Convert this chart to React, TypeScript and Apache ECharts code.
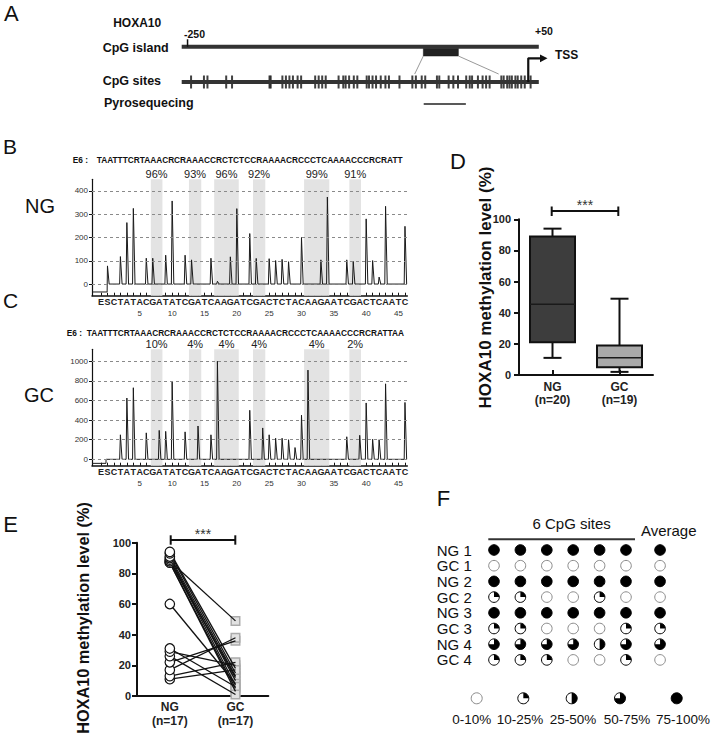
import React, { useEffect, useRef } from "react";
import * as echarts from "echarts";

const FONT = "'Liberation Sans', Arial, Helvetica, sans-serif";

// ---------- Panel A: HOXA10 promoter schematic (bp relative to TSS) ----------
const regionStart = -255;
const regionEnd = 50;
const cpgSites = [
  -247, -236, -233, -217, -212, -180, -179, -169, -166, -163, -160, -156, -153,
  -141, -138, -135, -132, -121, -117, -115, -112, -108, -105, -97, -95, -92, -89,
  -85, -81, -78, -69, -58, -55, -50, -47, -37, -35, -27, -23, -19, -12, -9, -7,
  -2, 2, 5, 8, 18, 20, 23, 25, 27, 30, 32, 35, 38, 43,
];
const islandBox = [-48.6, -18.7];
const zoomEnds = [-56, 15.7];
const pyroRegion = [-48.3, -12.3];
const tssPos = 41;
const tssArrowEnd = 52;

// ---------- Panels B / C: pyrograms ----------
const dispensation = "ESCTATACGATATCGATCAAGATCGACTCTACAAGAATCGACTCAATC".split("");
const seqToAnalyze = "TAATTTCRTAAACRCRAAACCRCTCTCCRAAAACRCCCTCAAAACCCRCRATTAA";
const cpgBands = [
  [7.7, 9.5], [13.6, 15.5], [17.5, 21.3], [23.5, 25.4], [31.4, 35.3], [38.4, 40.2],
];
const ngSitePct = [96, 93, 96, 92, 99, 91];
const gcSitePct = [10, 4, 4, 4, 4, 2];
const ngPeaks: [number, number][] = [
  [1, 78], [3, 118], [4, 264], [5, 325], [7, 111], [8, 111], [10, 124], [11, 357],
  [13, 124], [14, 104], [17, 111], [18, 12], [20, 117], [21, 324], [23, 217],
  [24, 110], [26, 109], [27, 101], [28, 106], [29, 96], [31, 200], [34, 104],
  [35, 374], [38, 104], [39, 97], [41, 280], [42, 101], [43, 30], [44, 334], [47, 248],
];
const gcPeaks: [number, number][] = [
  [3, 250], [4, 625], [5, 730], [7, 270], [9, 295], [10, 285], [11, 790], [13, 280],
  [15, 340], [17, 250], [18, 1000], [23, 500], [25, 320], [26, 250], [27, 215],
  [28, 215], [29, 200], [30, 120], [31, 450], [32, 910], [38, 230], [40, 245],
  [41, 575], [42, 205], [43, 200], [44, 770], [47, 580],
];
const ngStartLevel = -34;
const ngStepAt = 0.95;
const gcStartLevel = -41;
const gcStepAt = 0.77;
const ngTicks = [0, 100, 200, 300, 400];
const gcTicks = [0, 200, 400, 600, 800, 1000];

// ---------- Panel D: boxplot [min, Q1, median, Q3, max] ----------
const boxCats = ["NG\n(n=20)", "GC\n(n=19)"];
const boxStats = [
  [11, 21, 45.5, 89, 94],
  [2, 5, 11, 19, 49],
];
const boxFills = ["#3d3d3d", "#a9a9a9"];

// ---------- Panel E: paired samples ----------
const pairCats = ["NG\n(n=17)", "GC\n(n=17)"];
const pairedNG = [94, 93, 91, 90, 89, 88, 88, 87, 87, 60, 31, 29, 26, 22, 17, 13, 11];
const pairedGC = [18, 15, 13, 10, 7, 12, 49, 5, 3, 8, 6, 20, 1, 36, 38, 22, 17];

// ---------- Panel F: methylation levels (0:0-10,1:10-25,2:25-50,3:50-75,4:75-100) ----------
const rowLabels = ["NG 1", "GC 1", "NG 2", "GC 2", "NG 3", "GC 3", "NG 4", "GC 4"];
const siteLevels = [
  [4, 4, 4, 4, 4, 4],
  [0, 0, 0, 0, 0, 0],
  [4, 4, 4, 4, 4, 4],
  [1, 1, 0, 0, 1, 0],
  [4, 4, 4, 4, 4, 4],
  [1, 1, 0, 0, 0, 1],
  [3, 3, 3, 3, 2, 3],
  [1, 1, 1, 0, 0, 1],
];
const averageLevels = [4, 0, 4, 0, 4, 1, 3, 0];
const levelLabels = ["0-10%", "10-25%", "25-50%", "50-75%", "75-100%"];
const averageColumn = 6.29;

// legend layout (px)
const legendCircleX = [476.7, 523.3, 571.7, 620, 676.7];
const legendLabelX = [471.7, 520, 573, 627, 683];

function glyph(cx: number, cy: number, lvl: number, r: number) {
  const children: any[] = [
    {
      type: "circle",
      shape: { cx, cy, r },
      style: { fill: lvl === 4 ? "#000" : "#fff", stroke: lvl === 0 ? "#8a8a8a" : "#000", lineWidth: 1 },
    },
  ];
  if (lvl >= 1 && lvl <= 3) {
    const end = [0, 0, Math.PI / 2, Math.PI][lvl];
    children.push({
      type: "sector",
      shape: { cx, cy, r0: 0, r, startAngle: -Math.PI / 2, endAngle: end, clockwise: true },
      style: { fill: "#000" },
    });
  }
  return { type: "group", children };
}

function buildTrace(peaks: [number, number][], start: number, stepAt: number, xmin: number, xmax: number) {
  const pts: number[][] = [[xmin, start], [stepAt, start], [stepAt + 0.01, 0]];
  for (const [k, h] of peaks) {
    const last = pts[pts.length - 1][0];
    if (k - 0.12 > last) pts.push([k - 0.12, 0]);
    pts.push([k, h]);
    pts.push([k + 0.26, 0]);
  }
  pts.push([xmax, 0]);
  return pts;
}

const X_MIN = -1.392;
const X_MAX = 47.36;
const letterIdx = dispensation.map((_, i) => i);
const numberIdx = [6, 11, 16, 21, 26, 31, 36, 41, 46];

function txt(text: string, x: number, y: number, size: number, opts: any = {}) {
  return {
    type: "text",
    x,
    y,
    rotation: opts.rotation || 0,
    silent: true,
    style: {
      text,
      fontSize: size,
      fontWeight: opts.bold ? "bold" : "normal",
      fontFamily: FONT,
      fill: opts.color || "#111",
      align: opts.align || "left",
      verticalAlign: "middle",
      width: opts.width,
      overflow: opts.width ? "truncate" : undefined,
      ellipsis: "",
    },
  };
}

function seg(x1: number, y1: number, x2: number, y2: number, w = 2, color = "#111") {
  return { type: "line", silent: true, shape: { x1, y1, x2, y2 }, style: { stroke: color, lineWidth: w } };
}

function letterAxis(grid: number) {
  return {
    gridIndex: grid,
    type: "value",
    min: X_MIN,
    max: X_MAX,
    position: "bottom",
    axisLine: { show: true, onZero: false, lineStyle: { color: "#111", width: 1.5 } },
    axisTick: { show: true, inside: true, length: 3, customValues: letterIdx, lineStyle: { color: "#111" } },
    axisLabel: {
      customValues: letterIdx,
      formatter: (v: number) => dispensation[Math.round(v)] || "",
      fontSize: 9,
      fontWeight: "bold",
      fontFamily: FONT,
      color: "#222",
      margin: 2,
    },
    splitLine: { show: false },
  };
}
function numberAxis(grid: number, offset: number) {
  return {
    gridIndex: grid,
    type: "value",
    min: X_MIN,
    max: X_MAX,
    position: "bottom",
    offset,
    axisLine: { show: false, onZero: false },
    axisTick: { show: false },
    axisLabel: {
      customValues: numberIdx,
      formatter: (v: number) => String(Math.round(v) - 1),
      fontSize: 8,
      fontFamily: FONT,
      color: "#333",
      margin: 0,
    },
    splitLine: { show: false },
  };
}
function pyroYAxis(grid: number, min: number, max: number, ticks: number[]) {
  return {
    gridIndex: grid,
    type: "value",
    min,
    max,
    axisLine: { show: true, onZero: false, lineStyle: { color: "#111", width: 1.2 } },
    axisTick: { show: true, customValues: ticks, length: 3, lineStyle: { color: "#111" } },
    axisLabel: {
      customValues: ticks,
      formatter: (v: number) => String(Math.round(v)),
      fontSize: 8,
      fontFamily: FONT,
      color: "#333",
      margin: 4,
    },
    splitLine: { show: false },
  };
}
function pyroSeries(xi: number, yi: number, peaks: [number, number][], start: number, stepAt: number, ticks: number[], pct: number[]) {
  return {
    type: "line",
    xAxisIndex: xi,
    yAxisIndex: yi,
    data: buildTrace(peaks, start, stepAt, X_MIN, X_MAX),
    symbol: "none",
    silent: true,
    lineStyle: { color: "#1a1a1a", width: 1 },
    markLine: {
      silent: true,
      symbol: ["none", "none"],
      label: { show: false },
      lineStyle: { type: [3, 3], color: "#8a8a8a", width: 1 },
      data: ticks.map((v) => ({ yAxis: v })),
    },
    markArea: {
      silent: true,
      itemStyle: { color: "#e3e3e3" },
      label: { show: true, position: "top", distance: 0, fontSize: 11, fontFamily: FONT, color: "#222" },
      data: cpgBands.map((b, i) => [{ xAxis: b[0], name: pct[i] + "%" }, { xAxis: b[1] }]),
    },
  };
}

function boldYAxis(grid: number, margin: number) {
  return {
    gridIndex: grid,
    type: "value",
    min: 0,
    max: 100,
    interval: 20,
    axisLine: { show: true, onZero: false, lineStyle: { color: "#111", width: 2 } },
    axisTick: { show: true, length: 5, lineStyle: { color: "#111", width: 2 } },
    axisLabel: { fontSize: 11, fontWeight: "bold", fontFamily: FONT, color: "#222", margin },
    splitLine: { show: false },
  };
}
function catXAxis(grid: number, data: string[], margin: number, lh: number, tickInside: boolean) {
  return {
    gridIndex: grid,
    type: "category",
    data,
    axisLine: { show: true, onZero: false, lineStyle: { color: "#111", width: 2 } },
    axisTick: { show: tickInside, inside: true, alignWithLabel: true, length: 5, lineStyle: { color: "#111", width: 2 } },
    axisLabel: { interval: 0, fontSize: 12, fontWeight: "bold", fontFamily: FONT, color: "#222", margin, lineHeight: lh },
  };
}

export default function App() {
  const ref = useRef<HTMLDivElement>(null);
  useEffect(() => {
    if (!ref.current) return;
    const chart = echarts.init(ref.current, undefined, { renderer: "svg" });

    const fData: number[][] = [];
    siteLevels.forEach((row, r) => row.forEach((lvl, c) => fData.push([c, r, lvl])));
    averageLevels.forEach((lvl, r) => fData.push([averageColumn, r, lvl]));

    const pairSeries = pairedNG.map((v, i) => ({
      type: "line",
      xAxisIndex: 6,
      yAxisIndex: 4,
      data: [[0, v], [1, pairedGC[i]]],
      symbol: "none",
      silent: true,
      z: 3,
      lineStyle: { color: "#111", width: 1.3 },
    }));
    // draw lower circles first so the highest ones sit on top
    const ngPoints = pairedNG.map((v) => [0, v]).sort((a, b) => a[1] - b[1]);

    const option: any = {
      animation: false,
      backgroundColor: "#fff",
      textStyle: { fontFamily: FONT },
      grid: [
        { left: 181.7, top: 0, width: 357.1, height: 120 },
        { left: 92, top: 179.3, width: 315.3, height: 116.4 },
        { left: 92, top: 349.3, width: 315.3, height: 116.4 },
        { left: 519, top: 219.3, width: 134, height: 155.7 },
        { left: 137, top: 542.7, width: 131.3, height: 153.3 },
        { left: 480.8, top: 542.15, width: 192.72, height: 125.6 },
      ],
      xAxis: [
        { gridIndex: 0, type: "value", min: regionStart, max: regionEnd, show: false },
        letterAxis(1),
        numberAxis(1, 14),
        letterAxis(2),
        numberAxis(2, 14),
        catXAxis(3, boxCats, 5, 13.3, true),
        catXAxis(4, pairCats, 4, 14, false),
        { gridIndex: 5, type: "value", min: -0.5, max: 6.8, show: false },
      ],
      yAxis: [
        { gridIndex: 0, type: "value", min: 0, max: 120, inverse: true, show: false },
        pyroYAxis(1, -50, 450, ngTicks),
        pyroYAxis(2, -65, 1122, gcTicks),
        boldYAxis(3, 8),
        boldYAxis(4, 6),
        {
          gridIndex: 5,
          type: "category",
          data: rowLabels,
          inverse: true,
          axisLine: { show: false },
          axisTick: { show: false },
          axisLabel: { interval: 0, fontSize: 15, fontFamily: FONT, color: "#111", margin: 9 },
        },
      ],
      series: [
        // Panel A
        { type: "line", xAxisIndex: 0, yAxisIndex: 0, silent: true, symbol: "none", data: [[regionStart, 46.7], [regionEnd, 46.7]], lineStyle: { color: "#333", width: 4 } },
        { type: "line", xAxisIndex: 0, yAxisIndex: 0, silent: true, symbol: "none", data: [[regionStart, 82], [regionEnd, 82]], lineStyle: { color: "#333", width: 4 } },
        { type: "line", xAxisIndex: 0, yAxisIndex: 0, silent: true, symbol: "none", data: [[-250, 39.3], [-250, 46.7]], lineStyle: { color: "#111", width: 1.5 } },
        { type: "line", xAxisIndex: 0, yAxisIndex: 0, silent: true, symbol: "none", data: [[islandBox[0], 56], [zoomEnds[0], 74]], lineStyle: { color: "#999", width: 1 } },
        { type: "line", xAxisIndex: 0, yAxisIndex: 0, silent: true, symbol: "none", data: [[islandBox[1], 56], [zoomEnds[1], 74]], lineStyle: { color: "#999", width: 1 } },
        {
          type: "custom",
          xAxisIndex: 0,
          yAxisIndex: 0,
          silent: true,
          data: [[islandBox[0], islandBox[1]]],
          renderItem: (_p: any, api: any) => {
            const a = api.coord([api.value(0), 48.3]);
            const b = api.coord([api.value(1), 56]);
            return { type: "rect", shape: { x: a[0], y: a[1], width: b[0] - a[0], height: b[1] - a[1] }, style: { fill: "#222", stroke: "#111", lineWidth: 0.5 } };
          },
        },
        {
          type: "scatter",
          xAxisIndex: 0,
          yAxisIndex: 0,
          silent: true,
          data: cpgSites.map((b) => [b, 82]),
          symbol: "rect",
          symbolSize: [2, 13],
          itemStyle: { color: "#111" },
        },
        { type: "line", xAxisIndex: 0, yAxisIndex: 0, silent: true, symbol: "none", data: [[pyroRegion[0], 104], [pyroRegion[1], 104]], lineStyle: { color: "#222", width: 1.5 } },
        { type: "line", xAxisIndex: 0, yAxisIndex: 0, silent: true, symbol: "none", data: [[tssPos, 82], [tssPos, 58.3], [tssArrowEnd, 58.3]], lineStyle: { color: "#111", width: 2.2 } },
        // Panels B, C
        pyroSeries(1, 1, ngPeaks, ngStartLevel, ngStepAt, ngTicks, ngSitePct),
        pyroSeries(3, 2, gcPeaks, gcStartLevel, gcStepAt, gcTicks, gcSitePct),
        // Panel D
        {
          type: "custom",
          xAxisIndex: 5,
          yAxisIndex: 3,
          silent: true,
          data: boxStats.map((d, i) => [i, ...d]),
          renderItem: (p: any, api: any) => {
            const i = api.value(0);
            const x = api.coord([i, 0])[0];
            const y = (v: number) => api.coord([i, v])[1];
            const mn = api.value(1), q1 = api.value(2), md = api.value(3), q3 = api.value(4), mx = api.value(5);
            const hw = 22.5, cw = 9;
            const st = { stroke: "#111", lineWidth: 2 };
            return {
              type: "group",
              children: [
                { type: "line", shape: { x1: x, y1: y(mn), x2: x, y2: y(q1) }, style: st },
                { type: "line", shape: { x1: x, y1: y(q3), x2: x, y2: y(mx) }, style: st },
                { type: "line", shape: { x1: x - cw, y1: y(mn), x2: x + cw, y2: y(mn) }, style: st },
                { type: "line", shape: { x1: x - cw, y1: y(mx), x2: x + cw, y2: y(mx) }, style: st },
                { type: "rect", shape: { x: x - hw, y: y(q3), width: 2 * hw, height: y(q1) - y(q3) }, style: { fill: boxFills[p.dataIndex], stroke: "#111", lineWidth: 2 } },
                { type: "line", shape: { x1: x - hw, y1: y(md), x2: x + hw, y2: y(md) }, style: { stroke: "#1a1a1a", lineWidth: 1.5 } },
              ],
            };
          },
        },
        // Panel E
        ...pairSeries,
        {
          type: "scatter",
          xAxisIndex: 6,
          yAxisIndex: 4,
          silent: true,
          z: 1,
          data: pairedGC.map((v) => [1, v]),
          symbol: "rect",
          symbolSize: 8.5,
          itemStyle: { color: "#e2e2e2", borderColor: "#ababab", borderWidth: 1.5, opacity: 1 },
        },
        {
          type: "scatter",
          xAxisIndex: 6,
          yAxisIndex: 4,
          silent: true,
          z: 4,
          data: ngPoints,
          symbol: "circle",
          symbolSize: 9.5,
          itemStyle: { color: "#fff", borderColor: "#111", borderWidth: 1.2, opacity: 1 },
        },
        // Panel F
        {
          type: "custom",
          xAxisIndex: 7,
          yAxisIndex: 5,
          silent: true,
          data: fData,
          renderItem: (_p: any, api: any) => {
            const c = api.coord([api.value(0), api.value(1)]);
            return glyph(c[0], c[1], api.value(2), 5.3);
          },
        },
      ],
      graphic: [
        // panel letters
        txt("A", 4, 13, 22),
        txt("B", 3, 146.7, 21),
        txt("C", 3, 300, 21),
        txt("D", 450, 161.7, 22),
        txt("E", 3.3, 524, 22),
        txt("F", 436.7, 498.5, 22),
        // panel A texts
        txt("HOXA10", 113.2, 23.3, 12, { bold: true }),
        txt("-250", 184, 34.3, 10.5, { bold: true }),
        txt("+50", 535, 30.7, 10.5, { bold: true }),
        txt("CpG island", 102.7, 47.7, 12.5, { bold: true }),
        txt("CpG sites", 102.7, 80.5, 12.5, { bold: true }),
        txt("Pyrosequecing", 104, 102.7, 12.5, { bold: true }),
        txt("TSS", 555, 55, 12, { bold: true }),
        { type: "polygon", silent: true, shape: { points: [[540, 54.4], [547.5, 58.3], [540, 62.2]] }, style: { fill: "#111" } },
        // B / C labels
        txt("NG", 25, 206, 20),
        txt("GC", 24, 395, 20),
        txt("E6 :", 72.7, 160, 8.3, { bold: true }),
        txt(seqToAnalyze, 96.7, 160, 8.3, { bold: true, width: 310.5 }),
        txt("E6 :", 66.7, 332.7, 8.3, { bold: true }),
        txt(seqToAnalyze, 86.7, 332.7, 8.3, { bold: true, width: 322 }),
        // D
        txt("HOXA10 methylation level (%)", 485, 287.5, 17, { bold: true, rotation: Math.PI / 2, align: "center" }),
        seg(551.7, 211, 618.3, 211),
        seg(551.7, 206.5, 551.7, 216),
        seg(618.3, 206.5, 618.3, 216),
        txt("***", 585, 204.5, 14, { align: "center", color: "#333" }),
        // E
        txt("HOXA10 methylation level (%)", 82.5, 618, 16.3, { bold: true, rotation: Math.PI / 2, align: "center" }),
        seg(170.7, 540, 235.3, 540),
        seg(170.7, 535.3, 170.7, 544.7),
        seg(235.3, 535.3, 235.3, 544.7),
        txt("***", 203, 533.5, 14, { align: "center", color: "#333" }),
        // F
        txt("6 CpG sites", 571.7, 523.3, 15, { align: "center" }),
        seg(488.3, 539.3, 635, 539.3, 2, "#333"),
        txt("Average", 668.7, 530, 15, { align: "center" }),
        ...levelLabels.map((_, i) => glyph(legendCircleX[i], 698.3, i, 5.5)),
        ...levelLabels.map((l, i) => txt(l, legendLabelX[i], 719.3, 13.5, { align: "center" })),
      ],
    };
    chart.setOption(option);
    return () => chart.dispose();
  }, []);
  return (
    <div
      ref={ref}
      style={{ position: "absolute", left: 0, top: 0, width: 717, height: 739, background: "#fff" }}
    />
  );
}
